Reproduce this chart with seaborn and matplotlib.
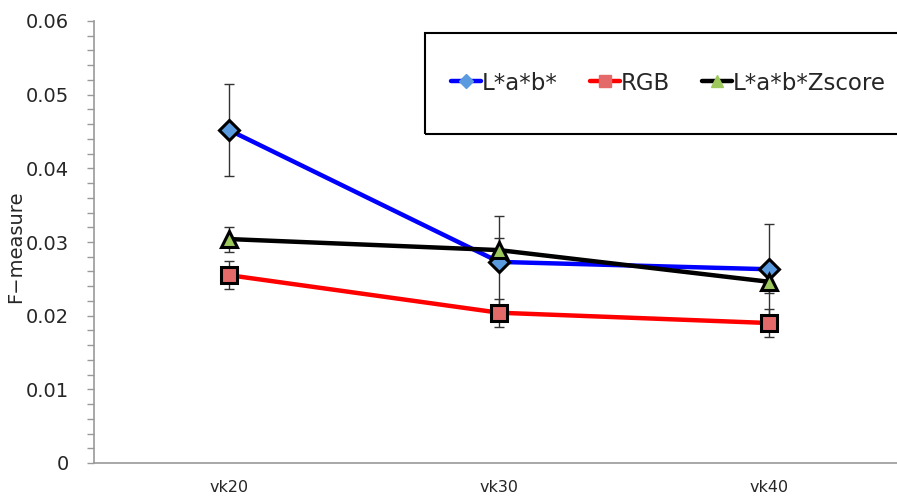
import numpy as np
import pandas as pd
import seaborn as sns
import matplotlib.pyplot as plt
from matplotlib.lines import Line2D
from matplotlib.patches import Rectangle
from matplotlib.ticker import FixedLocator

# values
categories = ['vk20', 'vk30', 'vk40']
series = ['L*a*b*', 'RGB', 'L*a*b*Zscore']
lab_vals = [0.0452, 0.0273, 0.0263]
rgb_vals = [0.0255, 0.0204, 0.0190]
zscore_vals = [0.0304, 0.0289, 0.0246]
lab_err = [0.0062, 0.0062, 0.0062]
rgb_err = [0.0019, 0.0019, 0.0019]
zscore_err = [0.0017, 0.0016, 0.0015]
y_ticks = [0, 0.01, 0.02, 0.03, 0.04, 0.05, 0.06]
y_ticklabels = ['0', '0.01', '0.02', '0.03', '0.04', '0.05', '0.06']

df = pd.DataFrame({
    'group': categories * 3,
    'series': np.repeat(series, 3),
    'fmeasure': lab_vals + rgb_vals + zscore_vals,
    'err': lab_err + rgb_err + zscore_err,
})

line_colors = {'L*a*b*': '#0000FF', 'RGB': '#FF0000', 'L*a*b*Zscore': '#000000'}
face_colors = {'L*a*b*': '#5A9BE0', 'RGB': '#E46A6A', 'L*a*b*Zscore': '#9CC85C'}
markers = {'L*a*b*': 'D', 'RGB': 's', 'L*a*b*Zscore': '^'}
msizes = {'L*a*b*': 10, 'RGB': 12, 'L*a*b*Zscore': 12}

sns.set_style('white')
plt.rcParams['font.family'] = ['DejaVu Sans']

fig = plt.figure(figsize=(8.97, 4.97), dpi=100)
ax = fig.add_axes([94 / 897, 1 - 463 / 497, 810 / 897, 442 / 497])

xpos = {c: i for i, c in enumerate(categories)}
for s in series:
    sub = df[df['series'] == s]
    ax.errorbar([xpos[g] for g in sub['group']], sub['fmeasure'], yerr=sub['err'],
                fmt='none', ecolor='#333333', elinewidth=1.0, capsize=3.5,
                capthick=1.0, zorder=1)

for s in series:
    sub = df[df['series'] == s]
    sns.lineplot(data=sub, x='group', y='fmeasure', ax=ax, color=line_colors[s],
                 linewidth=3.2, marker=markers[s], markersize=msizes[s],
                 markerfacecolor=face_colors[s], markeredgecolor='black',
                 markeredgewidth=2.2, sort=False, zorder=3, legend=False)

ax.set_xlim(-0.5, 2.5)
ax.set_xticks(range(len(categories)))
ax.set_xticklabels(categories, fontsize=11.5)
ax.xaxis.set_minor_locator(FixedLocator([0.5, 1.5]))
ax.set_yticks(y_ticks)
ax.set_yticklabels(y_ticklabels, fontsize=14)
ax.yaxis.set_minor_locator(FixedLocator(np.arange(0.002, 0.06, 0.002)))
ax.set_ylim(0, 0.06)
ax.tick_params(axis='x', which='both', direction='in', length=7, width=1,
               color='#999999', pad=12)
ax.tick_params(axis='y', which='both', direction='out', length=5, width=1,
               color='#999999', pad=13, left=True)
ax.set_xlabel('')
ax.set_ylabel('F\u2212measure', fontsize=14)
ax.yaxis.set_label_coords(-0.085, 0.49)
for side in ['top', 'right']:
    ax.spines[side].set_visible(False)
for side in ['left', 'bottom']:
    ax.spines[side].set_color('#999999')
    ax.spines[side].set_linewidth(1.2)

# legend box
fig.patches.append(Rectangle((425 / 897, 1 - 134 / 497), 480 / 897, 101 / 497,
                             transform=fig.transFigure, fill=False,
                             edgecolor='black', linewidth=1.5))
handles = [Line2D([0], [0], color=line_colors[s], linewidth=3.2, marker=markers[s],
                  markersize=msizes[s] * 0.75, markerfacecolor=face_colors[s],
                  markeredgecolor=face_colors[s]) for s in series]
fig.legend(handles, series, loc='center left', bbox_to_anchor=(451 / 897, 1 - 83 / 497),
           ncol=3, frameon=False, fontsize=16.5, handlelength=1.3, handletextpad=0.05,
           columnspacing=1.4, borderaxespad=0, borderpad=0)

fig.savefig('out.png', dpi=100)
